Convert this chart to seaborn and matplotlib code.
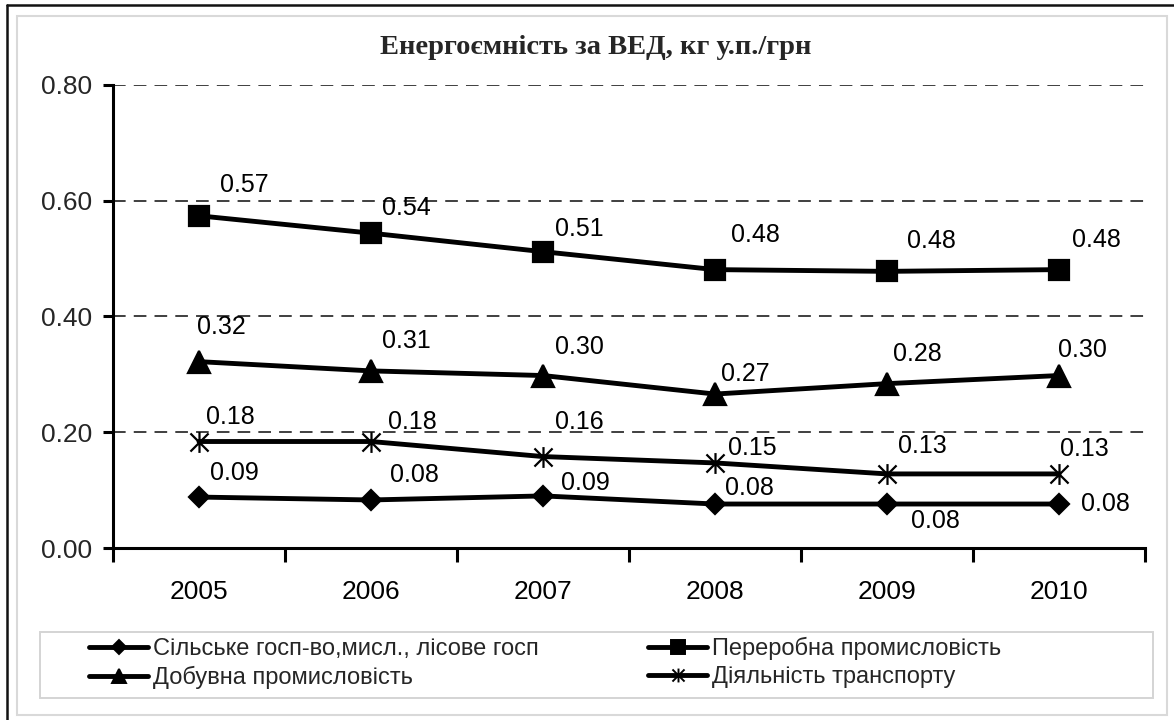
import numpy as np
import pandas as pd
import seaborn as sns
import matplotlib
matplotlib.use("Agg")
import matplotlib.pyplot as plt
from matplotlib.path import Path
from matplotlib.lines import Line2D
from matplotlib.patches import Rectangle

# ---------------- data ----------------
years = ["2005", "2006", "2007", "2008", "2009", "2010"]
series_names = [
    "Сільське госп-во,мисл., лісове госп",
    "Переробна промисловість",
    "Добувна промисловість",
    "Діяльність транспорту",
]
agri = [0.088, 0.083, 0.090, 0.076, 0.076, 0.076]
manufacturing = [0.574, 0.544, 0.512, 0.481, 0.478, 0.481]
mining = [0.322, 0.306, 0.298, 0.266, 0.284, 0.298]
transport = [0.184, 0.184, 0.158, 0.147, 0.128, 0.128]
y_ticks = [0.0, 0.2, 0.4, 0.6, 0.8]
title = "Енергоємність за ВЕД, кг у.п./грн"

# label offsets (pixels: left edge dx, vertical centre dy downward)
label_offsets = {
    series_names[0]: [(11, -25), (19, -26), (18, -14), (10, -17), (24, 16), (22, -1)],
    series_names[1]: [(21, -32), (11, -26), (12, -24), (16, -36), (20, -31), (13, -31)],
    series_names[2]: [(-2, -36), (11, -31), (12, -30), (6, -21), (6, -31), (-1, -27)],
    series_names[3]: [(7, -26), (17, -21), (12, -36), (13, -16), (11, -29), (1, -26)],
}

# ---------------- style ----------------
sns.set_theme(style="white")
plt.rcParams["font.family"] = ["Liberation Sans", "DejaVu Sans"]

star = Path(
    [(-1, -1), (1, 1), (-1, 1), (1, -1), (0, -1.15), (0, 1.15)],
    [Path.MOVETO, Path.LINETO, Path.MOVETO, Path.LINETO, Path.MOVETO, Path.LINETO],
)
markers = {series_names[0]: "D", series_names[1]: "s",
           series_names[2]: "^", series_names[3]: star}
msizes = {series_names[0]: 10.5, series_names[1]: 14.5,
          series_names[2]: 15.5, series_names[3]: 15}
leg_msizes = {series_names[0]: 7.5, series_names[1]: 9.5,
              series_names[2]: 10.5, series_names[3]: 10}

values = {series_names[0]: agri, series_names[1]: manufacturing,
          series_names[2]: mining, series_names[3]: transport}

df = pd.DataFrame(
    [(i, y, v, s) for s in series_names for i, (y, v) in enumerate(zip(years, values[s]))],
    columns=["x", "year", "value", "series"],
)

W, H = 1174, 720
fig = plt.figure(figsize=(W / 100, H / 100), dpi=100)
ax = fig.add_axes([113 / W, 1 - 548 / H, (1145 - 113) / W, (548 - 85) / H])

for s in series_names:
    sub = df[df["series"] == s]
    sns.lineplot(data=sub, x="x", y="value", ax=ax, color="black",
                 marker=markers[s], markersize=msizes[s],
                 markeredgecolor="black", markerfacecolor="black",
                 markeredgewidth=1.6, linewidth=3.5, legend=False, zorder=3)
    for i, v in enumerate(values[s]):
        dx, dy = label_offsets[s][i]
        ax.annotate(f"{v:.2f}", (i, v), xytext=(dx, -dy - 8),
                    textcoords="offset pixels", ha="left", va="baseline",
                    fontsize=18, color="black", zorder=4)

ax.set_xlim(-0.5, 5.5)
ax.set_ylim(0, 0.8)
ax.set_xlabel("")
ax.set_ylabel("")

ax.set_xticks(range(len(years)))
ax.set_xticklabels(years, fontsize=19)
ax.set_xticks(np.arange(-0.5, 6.0, 1.0), minor=True)
ax.tick_params(axis="x", which="major", length=0, pad=23, colors="black")
ax.tick_params(axis="x", which="minor", length=10, width=2.2, direction="out",
               color="black", bottom=True)

ax.set_yticks(y_ticks)
ax.set_yticklabels([f"{t:.2f}" for t in y_ticks], fontsize=19)
ax.tick_params(axis="y", length=7, width=2.2, direction="out", pad=8,
               color="black", left=True)

ax.yaxis.grid(True, color="#303030", linestyle=(0, (7, 4.5)), linewidth=1.3)
ax.xaxis.grid(False)
ax.set_axisbelow(True)
for side in ["top", "right"]:
    ax.spines[side].set_visible(False)
for side in ["left", "bottom"]:
    ax.spines[side].set_color("black")
    ax.spines[side].set_linewidth(2.2)
    ax.spines[side].set_zorder(5)

# title
fig.text(596 / W, 1 - 47 / H, title, ha="center", va="center",
         fontsize=20.5, fontweight="bold", family=["Liberation Serif", "DejaVu Serif"])

# legend
handles = [Line2D([0], [0], color="black", lw=3.5, marker=markers[s],
                  markersize=leg_msizes[s], markerfacecolor="black",
                  markeredgecolor="black", markeredgewidth=1.4)
           for s in series_names]
order = [0, 2, 1, 3]  # column-wise fill: col1 = agri, mining; col2 = manuf, transport
fig.legend([handles[i] for i in order], [series_names[i] for i in order],
           loc="center left", bbox_to_anchor=(89 / W, 1 - 663 / H), ncol=2,
           frameon=False, fontsize=17, handlelength=2.5, handletextpad=0.2,
           columnspacing=4.65, labelspacing=0.25, borderpad=0, borderaxespad=0)

fig.patches.append(Rectangle((40 / W, 1 - 698 / H), (1153 - 40) / W, (698 - 632) / H,
                             transform=fig.transFigure, fill=False,
                             edgecolor="#d4d4d4", linewidth=1.4))
# chart frames
fig.patches.append(Rectangle((17 / W, 1 - 715 / H), (1167 - 17) / W, (715 - 16) / H,
                             transform=fig.transFigure, fill=False,
                             edgecolor="#d9d9d9", linewidth=1.5))
fig.lines.append(Line2D([7 / W, 7 / W], [0, 1 - 5 / H], transform=fig.transFigure,
                        color="#111111", linewidth=1.8))
fig.lines.append(Line2D([7 / W, 1], [1 - 5 / H, 1 - 5 / H], transform=fig.transFigure,
                        color="#111111", linewidth=1.8))

fig.savefig("out.png", dpi=100)
